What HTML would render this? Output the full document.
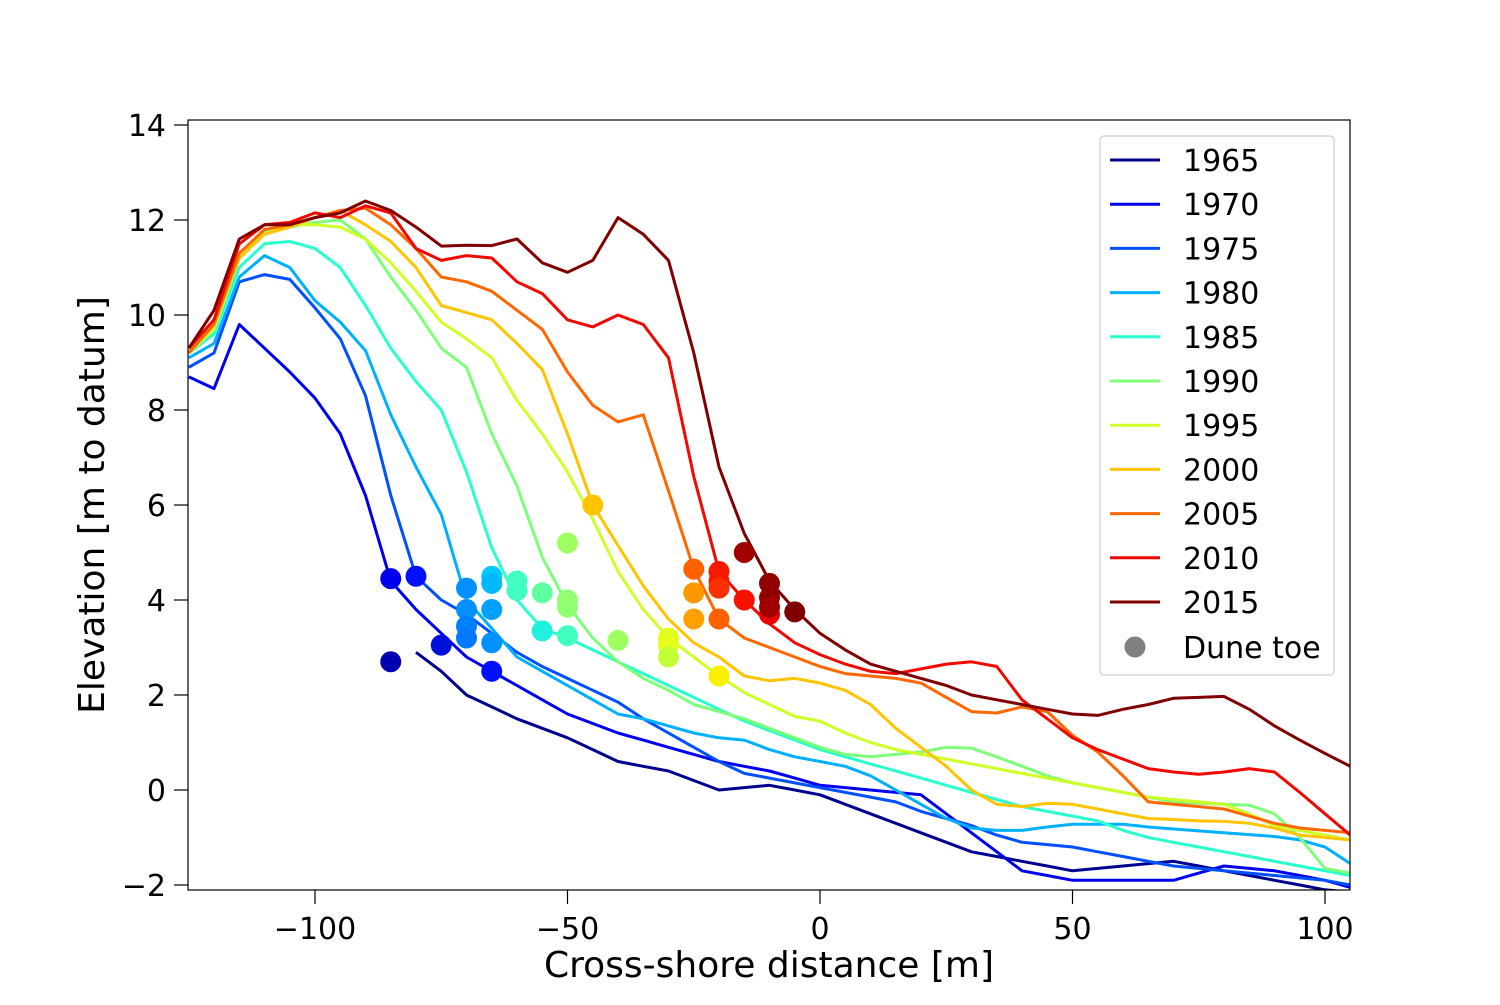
<!DOCTYPE html>
<html><head><meta charset="utf-8"><style>
body{margin:0;background:#fff}
svg text{font-family:"DejaVu Sans","Liberation Sans",sans-serif;fill:#000}
</style></head><body>
<svg id="chart" width="1500" height="1000" xmlns="http://www.w3.org/2000/svg"></svg>
<script>
const xsStart = -125, xsStep = 5;
const years = ["1965","1970","1975","1980","1985","1990","1995","2000","2005","2010","2015"];
const colors = ["#00008f","#0000f1","#0050ff","#00b0ff","#29ffce","#7dff7a","#ceff29","#ffc400","#ff6800","#f10800","#800000"];
const s1965 = [null,null,null,null,null,null,null,null,null,2.9,2.5,2.0,1.75,1.5,1.3,1.1,0.85,0.6,0.5,0.4,0.2,0.0,0.05,0.1,0.0,-0.1,-0.3,-0.5,-0.7,-0.9,-1.1,-1.3,-1.4,-1.5,-1.6,-1.7,-1.65,-1.6,-1.55,-1.5,-1.6,-1.7,-1.8,-1.9,-2.0,-2.1,-2.15];
const s1970 = [8.7,8.45,9.8,9.3,8.8,8.25,7.5,6.2,4.4,3.8,3.3,2.8,2.5,2.2,1.9,1.6,1.4,1.2,1.05,0.9,0.75,0.6,0.5,0.4,0.25,0.1,0.05,0.0,-0.05,-0.1,-0.5,-0.9,-1.3,-1.7,-1.8,-1.9,-1.9,-1.9,-1.9,-1.9,-1.75,-1.6,-1.65,-1.7,-1.8,-1.9,-2.05];
const s1975 = [8.9,9.2,10.7,10.85,10.75,10.15,9.5,8.3,6.2,4.5,4.0,3.7,3.3,2.9,2.6,2.35,2.1,1.85,1.5,1.2,0.9,0.6,0.35,0.25,0.15,0.05,-0.05,-0.15,-0.25,-0.45,-0.6,-0.75,-0.95,-1.1,-1.15,-1.2,-1.3,-1.4,-1.5,-1.6,-1.65,-1.7,-1.75,-1.8,-1.85,-1.9,-2.0];
const s1980 = [9.1,9.4,10.8,11.25,11.0,10.3,9.85,9.25,7.9,6.8,5.8,4.0,3.4,2.8,2.5,2.2,1.9,1.6,1.5,1.35,1.2,1.1,1.05,0.85,0.7,0.6,0.5,0.3,0.0,-0.3,-0.6,-0.8,-0.85,-0.85,-0.78,-0.72,-0.72,-0.72,-0.78,-0.82,-0.86,-0.9,-0.94,-0.98,-1.05,-1.2,-1.55];
const s1985 = [9.2,9.6,11.0,11.5,11.55,11.4,11.0,10.2,9.3,8.6,8.0,6.7,5.1,4.0,3.4,3.2,2.95,2.7,2.45,2.2,1.95,1.7,1.45,1.25,1.05,0.85,0.7,0.55,0.4,0.25,0.1,-0.05,-0.2,-0.35,-0.45,-0.55,-0.65,-0.85,-1.0,-1.1,-1.2,-1.3,-1.4,-1.5,-1.6,-1.7,-1.8];
const s1990 = [9.2,9.7,11.2,11.75,11.85,11.95,12.0,11.6,10.8,10.1,9.3,8.9,7.5,6.4,4.9,3.9,3.2,2.7,2.35,2.1,1.8,1.65,1.5,1.3,1.1,0.9,0.75,0.7,0.75,0.8,0.9,0.88,0.7,0.5,0.3,0.15,0.05,-0.05,-0.15,-0.25,-0.28,-0.3,-0.32,-0.5,-1.0,-1.65,-1.75];
const s1995 = [9.2,9.7,11.2,11.7,11.9,11.9,11.85,11.6,11.1,10.5,9.85,9.5,9.1,8.2,7.5,6.7,5.7,4.6,3.8,3.2,2.8,2.4,2.05,1.8,1.55,1.45,1.2,1.0,0.85,0.75,0.65,0.55,0.45,0.35,0.25,0.15,0.05,-0.05,-0.15,-0.2,-0.25,-0.3,-0.5,-0.75,-0.85,-0.95,-1.05];
const s2000 = [9.2,9.8,11.2,11.7,11.85,12.05,12.2,11.9,11.55,11.0,10.2,10.05,9.9,9.4,8.85,7.5,6.0,5.15,4.3,3.6,3.1,2.8,2.4,2.3,2.35,2.25,2.1,1.8,1.3,0.9,0.5,0.0,-0.3,-0.35,-0.28,-0.3,-0.4,-0.5,-0.6,-0.62,-0.65,-0.66,-0.7,-0.8,-0.95,-1.0,-1.05];
const s2005 = [9.2,9.8,11.3,11.8,11.9,12.05,12.2,12.25,11.9,11.4,10.8,10.7,10.5,10.1,9.7,8.8,8.1,7.75,7.9,6.3,4.65,3.6,3.2,3.0,2.8,2.6,2.45,2.4,2.35,2.25,1.95,1.65,1.62,1.75,1.65,1.15,0.8,0.3,-0.25,-0.3,-0.35,-0.4,-0.55,-0.7,-0.8,-0.85,-0.9];
const s2010 = [9.3,9.9,11.5,11.9,11.95,12.15,12.05,12.3,12.15,11.4,11.15,11.25,11.2,10.7,10.45,9.9,9.75,10.0,9.8,9.1,6.6,4.6,4.0,3.5,3.1,2.85,2.65,2.5,2.45,2.55,2.65,2.7,2.6,1.9,1.5,1.1,0.85,0.65,0.45,0.38,0.33,0.38,0.45,0.38,-0.05,-0.5,-0.95];
const s2015 = [9.3,10.1,11.6,11.9,11.9,12.05,12.15,12.4,12.2,11.85,11.45,11.47,11.46,11.6,11.1,10.9,11.15,12.05,11.7,11.15,9.2,6.8,5.4,4.4,3.8,3.3,2.95,2.65,2.5,2.35,2.2,2.0,1.9,1.8,1.7,1.6,1.57,1.7,1.8,1.93,1.95,1.97,1.7,1.35,1.05,0.77,0.5];
const series = [s1965,s1970,s1975,s1980,s1985,s1990,s1995,s2000,s2005,s2010,s2015];
const toeX = [-85,-75,-85,-80,-65,-70,-70,-70,-70,-65,-65,-65,-65,-60,-60,-55,-55,-50,-50,-50,-50,-40,-30,-30,-30,-45,-20,-25,-25,-25,-20,-20,-20,-20,-15,-10,-15,-10,-10,-10,-5];
const toeY = [2.7,3.05,4.45,4.5,2.5,4.25,3.8,3.45,3.2,4.5,4.35,3.8,3.1,4.4,4.2,4.15,3.35,3.25,3.85,4.0,5.2,3.15,3.2,3.05,2.8,6.0,2.4,4.65,4.15,3.6,3.6,4.6,4.4,4.25,4.0,3.7,5.0,4.35,4.05,3.85,3.75];
const toeC = ["#0000b0","#0010d8","#0000f0","#0010ff","#0010ff","#0090ff","#0090ff","#0080ff","#0078ff","#00c8ff","#00b8ff","#00a0ff","#0090ff","#40ffc0","#40ffc0","#60ffa0","#20f0e0","#40ffc0","#90ff70","#90ff70","#a0ff60","#a0ff60","#e0ff20","#e8ff18","#c0ff38","#ffc400","#f8f000","#ff6000","#ff9800","#ffa000","#ff6000","#f81800","#f81800","#ff3000","#f81000","#e80000","#a00000","#900000","#900000","#a00000","#800000"];
const xTicks = [-100,-50,0,50,100];
const yTicks = [-2,0,2,4,6,8,10,12,14];

const L=188,R=1350,T=120,B=890;
const X = v => 820 + v*5.05;
const Y = v => 790 - v*47.5;
const svg = document.getElementById('chart');
const NS = "http://www.w3.org/2000/svg";
function mk(tag, attrs, parent){const e=document.createElementNS(NS,tag);for(const k in attrs)e.setAttribute(k,attrs[k]);(parent||svg).appendChild(e);return e;}

const defs = mk('defs',{});
const cp = mk('clipPath',{id:'clip'},defs);
mk('rect',{x:L,y:T,width:R-L,height:B-T},cp);
const plot = mk('g',{'clip-path':'url(#clip)'});



series.forEach((s,i)=>{
  let d='';
  s.forEach((v,j)=>{ if(v===null) return; d += (d?'L':'M') + X(xsStart+j*xsStep).toFixed(1)+','+Y(v).toFixed(1); });
  const p = mk('path',{d:d,fill:'none',stroke:colors[i],'stroke-width':3,'stroke-linejoin':'round'},plot);
  
  
});
toeX.forEach((x,i)=>{
  const c = mk('circle',{cx:X(x),cy:Y(toeY[i]),r:10.5,fill:toeC[i]},plot);
  
  
});

const frame = mk('rect',{x:L,y:T,width:R-L,height:B-T,fill:'none',stroke:'#000','stroke-width':1.2});



xTicks.forEach(t=>{
  const x=X(t);
  mk('line',{x1:x,x2:x,y1:B,y2:B+14,stroke:'#000','stroke-width':1.2});
  const tx = mk('text',{x:x,y:B+49,'font-size':30,'text-anchor':'middle'});
  tx.textContent = t<0 ? '\u2212'+(-t) : String(t);
  
  
});
yTicks.forEach(t=>{
  const y=Y(t);
  mk('line',{x1:L-14,x2:L,y1:y,y2:y,stroke:'#000','stroke-width':1.2});
  const tx = mk('text',{x:L-22,y:y+11,'font-size':30,'text-anchor':'end'});
  tx.textContent = t<0 ? '\u2212'+(-t) : String(t);
  
  
});
const xl = mk('text',{x:769,y:977,'font-size':36,'text-anchor':'middle'});
xl.textContent='Cross-shore distance [m]';


const yl = mk('text',{x:0,y:0,'font-size':36,'text-anchor':'middle',transform:'translate(104,505) rotate(-90)'});
yl.textContent='Elevation [m to datum]';



const lg = mk('g',{});


mk('rect',{x:1100,y:136,width:234,height:539,rx:4,fill:'#fff',stroke:'#ccc','stroke-width':1.2},lg);
years.forEach((yr,i)=>{
  const y = 160 + i*44.2;
  const e = mk('g',{},lg);
  
  
  mk('line',{x1:1110,x2:1160,y1:y,y2:y,stroke:colors[i],'stroke-width':3},e);
  const t = mk('text',{x:1183,y:y+11,'font-size':30},e);
  t.textContent = yr;
});
const de = mk('g',{},lg);


mk('circle',{cx:1135,cy:647,r:10.5,fill:'#808080'},de);
const dt = mk('text',{x:1183,y:658,'font-size':30},de);
dt.textContent='Dune toe';
</script>
</body></html>
